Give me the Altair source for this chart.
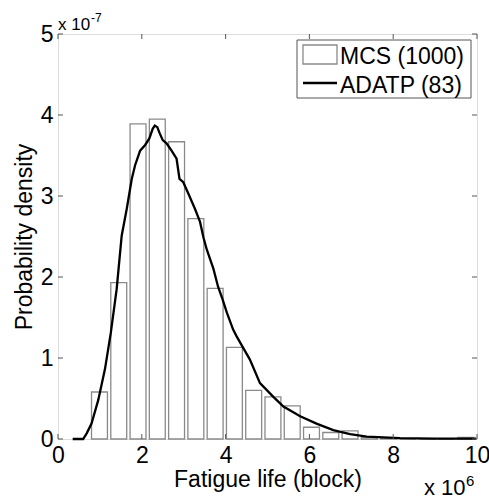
import altair as alt
import pandas as pd

# ---- data (x in units of 1e6 blocks, y in units of 1e-7) ----
bin_centers = [0.99, 1.45, 1.91, 2.37, 2.83, 3.29, 3.75, 4.21, 4.67, 5.13,
               5.59, 6.05, 6.51, 6.97, 7.43, 7.89, 8.35, 8.81, 9.27, 9.73]
mcs_density = [0.58, 1.93, 3.89, 3.95, 3.67, 2.72, 1.86, 1.13, 0.60, 0.52,
               0.41, 0.145, 0.08, 0.10, 0.02, 0.01, 0.0, 0.0, 0.0, 0.02]

adatp_x = [0.35, 0.60, 0.685, 0.80, 0.96, 1.12, 1.26, 1.40, 1.52, 1.64, 1.76,
           1.84, 1.96, 2.08, 2.18, 2.26, 2.31, 2.37, 2.43, 2.50, 2.59, 2.71,
           2.83, 2.90, 2.99, 3.11, 3.27, 3.39, 3.47, 3.55, 3.71, 3.82, 3.93,
           4.03, 4.18, 4.26, 4.58, 4.82, 5.14, 5.38, 5.78, 6.17, 6.57, 6.97,
           7.37, 8.16, 9.00, 9.98]
adatp_y = [0.0, 0.0, 0.07, 0.19, 0.48, 0.86, 1.31, 1.85, 2.51, 2.84, 3.21,
           3.38, 3.56, 3.63, 3.71, 3.83, 3.87, 3.85, 3.77, 3.69, 3.65, 3.56,
           3.46, 3.21, 3.17, 3.03, 2.84, 2.68, 2.49, 2.34, 2.10, 1.88, 1.72,
           1.56, 1.35, 1.27, 0.98, 0.69, 0.52, 0.40, 0.28, 0.19, 0.11, 0.06,
           0.03, 0.01, 0.005, 0.005]

x_ticks = [0, 2, 4, 6, 8, 10]
y_ticks = [0, 1, 2, 3, 4, 5]
legend_labels = ["MCS (1000)", "ADATP (83)"]

FONT = "Liberation Sans"
W, H = 419, 405
FRAME = "#555555"

bars_df = pd.DataFrame({"center": bin_centers, "density": mcs_density})
line_df = pd.DataFrame({"life": adatp_x, "pdf": adatp_y})
xt_df = pd.DataFrame({"t": x_ticks})
yt_df = pd.DataFrame({"t": y_ticks})
one = pd.DataFrame({"k": [0]})

xscale = alt.Scale(domain=[0, 10], nice=False, zero=False)
yscale = alt.Scale(domain=[0, 5], nice=False)

xaxis = alt.Axis(values=x_ticks, format="d", labelFontSize=23, labelFont=FONT,
                 labelColor="black", labelPadding=5, labelFlush=False,
                 domain=False, ticks=False, grid=False,
                 title="Fatigue life (block)", titleFont=FONT, titleFontSize=23,
                 titleFontWeight="normal", titleColor="black",
                 titleBaseline="alphabetic", titleY=47)
yaxis = alt.Axis(values=y_ticks, format="d", labelFontSize=23, labelFont=FONT,
                 labelColor="black", labelPadding=5, labelFlush=False,
                 domain=False, ticks=False, grid=False,
                 title="Probability density", titleFont=FONT, titleFontSize=23,
                 titleFontWeight="normal", titleColor="black",
                 titleBaseline="middle", titleX=-34)

bars = alt.Chart(bars_df).transform_calculate(
    lo="datum.center - 0.19", hi="datum.center + 0.19"
).mark_bar(fill="white", stroke="#8a8a8a", strokeWidth=1.3).encode(
    x=alt.X("lo:Q", scale=xscale, axis=xaxis),
    x2="hi:Q",
    y=alt.Y("density:Q", scale=yscale, axis=yaxis),
    y2=alt.datum(0),
)

line = alt.Chart(line_df).mark_line(color="black", strokeWidth=2.3).encode(
    x=alt.X("life:Q", scale=xscale),
    y=alt.Y("pdf:Q", scale=yscale),
)

tick_len = 5
bottom_ticks = alt.Chart(xt_df).mark_rule(color=FRAME, strokeWidth=1).encode(
    x=alt.X("t:Q", scale=xscale), y=alt.value(H), y2=alt.value(H - tick_len))
top_ticks = alt.Chart(xt_df).mark_rule(color=FRAME, strokeWidth=1).encode(
    x=alt.X("t:Q", scale=xscale), y=alt.value(0), y2=alt.value(tick_len))
left_ticks = alt.Chart(yt_df).mark_rule(color=FRAME, strokeWidth=1).encode(
    y=alt.Y("t:Q", scale=yscale), x=alt.value(0), x2=alt.value(tick_len))
right_ticks = alt.Chart(yt_df).mark_rule(color=FRAME, strokeWidth=1).encode(
    y=alt.Y("t:Q", scale=yscale), x=alt.value(W), x2=alt.value(W - tick_len))

# exponent annotations
exp_y_base = alt.Chart(one).mark_text(text="x 10", font=FONT, fontSize=17,
                                      align="left", baseline="alphabetic").encode(
    x=alt.value(0), y=alt.value(-4.5))
exp_y_sup = alt.Chart(one).mark_text(text="-7", font=FONT, fontSize=12,
                                     align="left", baseline="alphabetic").encode(
    x=alt.value(33), y=alt.value(-12))
exp_x_base = alt.Chart(one).mark_text(text="x 10", font=FONT, fontSize=22,
                                      align="left", baseline="alphabetic").encode(
    x=alt.value(366), y=alt.value(461))
exp_x_sup = alt.Chart(one).mark_text(text="6", font=FONT, fontSize=15,
                                     align="left", baseline="alphabetic").encode(
    x=alt.value(408), y=alt.value(452))

# legend
leg_box = alt.Chart(one).mark_rect(fill="white", stroke=FRAME, strokeWidth=1).encode(
    x=alt.value(239), x2=alt.value(413), y=alt.value(6), y2=alt.value(64))
leg_patch = alt.Chart(one).mark_rect(fill="white", stroke="#8a8a8a", strokeWidth=1.3).encode(
    x=alt.value(245), x2=alt.value(279), y=alt.value(11), y2=alt.value(30))
leg_line = alt.Chart(one).mark_rule(color="black", strokeWidth=2.3).encode(
    x=alt.value(245), x2=alt.value(279), y=alt.value(49))
leg_text1 = alt.Chart(one).mark_text(text=legend_labels[0], font=FONT, fontSize=23,
                                     align="left", baseline="alphabetic").encode(
    x=alt.value(282), y=alt.value(30))
leg_text2 = alt.Chart(one).mark_text(text=legend_labels[1], font=FONT, fontSize=23,
                                     align="left", baseline="alphabetic").encode(
    x=alt.value(282), y=alt.value(59))

chart = alt.layer(
    bars, line, bottom_ticks, top_ticks, left_ticks, right_ticks,
    exp_y_base, exp_y_sup, exp_x_base, exp_x_sup,
    leg_box, leg_patch, leg_line, leg_text1, leg_text2,
).properties(
    width=W, height=H,
    autosize=alt.AutoSizeParams(type="none"),
    padding={"left": 58, "top": 34, "right": 12, "bottom": 63},
).configure_view(
    stroke=FRAME, strokeWidth=1
).configure(background="white")

chart.save("out.html", embed_options={"renderer": "svg", "actions": False})
